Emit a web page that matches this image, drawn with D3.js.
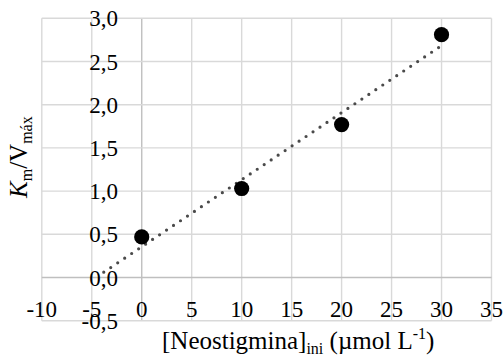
<!DOCTYPE html>
<html>
<head>
<meta charset="utf-8">
<script src="https://cdn.jsdelivr.net/npm/d3@7/dist/d3.min.js"></script>
<style>
  html, body { margin: 0; padding: 0; background: #fff; }
  svg { display: block; }
</style>
</head>
<body>
<svg id="chart" width="504" height="356"></svg>
<script>
// Data
const xValues = [0, 10, 20, 30];
const yValues = [0.47, 1.03, 1.77, 2.81];
const xTicks = [-10, -5, 0, 5, 10, 15, 20, 25, 30, 35];
const yTicks = [-0.5, 0, 0.5, 1.0, 1.5, 2.0, 2.5, 3.0];
const trendRange = [-3.8, 30];

const FONT = "'Times New Roman', 'Liberation Serif', 'Noto Serif', 'DejaVu Serif', FreeSerif, 'Nimbus Roman', Times, serif";
const svg = d3.select("#chart").attr("font-family", FONT);
const x = d3.scaleLinear().domain([-10, 35]).range([41.8, 491.5]);
const y = d3.scaleLinear().domain([-0.5, 3.0]).range([320.7, 18.3]);

const fmt = v => d3.format(".1f")(v).replace(".", ",").replace("\u2212", "-");

// gridlines
svg.append("g").selectAll("line").data(xTicks).join("line")
  .attr("x1", d => x(d)).attr("x2", d => x(d))
  .attr("y1", y(3.0)).attr("y2", y(-0.5))
  .attr("stroke", d => d === 0 ? "#bfbfbf" : "#d9d9d9")
  .attr("stroke-width", 1.4);
svg.append("g").selectAll("line").data(yTicks).join("line")
  .attr("x1", x(-10)).attr("x2", x(35))
  .attr("y1", d => y(d)).attr("y2", d => y(d))
  .attr("stroke", d => d === 0 ? "#bfbfbf" : "#d9d9d9")
  .attr("stroke-width", 1.4);

// trendline (least squares from the data)
const mx = d3.mean(xValues), my = d3.mean(yValues);
const slope = d3.sum(xValues.map((v, i) => (v - mx) * (yValues[i] - my))) /
              d3.sum(xValues.map(v => (v - mx) * (v - mx)));
const intercept = my - slope * mx;
const line = d3.line().x(d => x(d)).y(d => y(intercept + slope * d));
svg.append("path").datum(trendRange)
  .attr("d", line)
  .attr("fill", "none")
  .attr("stroke", "#4a4a4a")
  .attr("stroke-width", 3.2)
  .attr("stroke-linecap", "round")
  .attr("stroke-dasharray", "0 8.4");

// tick labels
svg.append("g").selectAll("text").data(xTicks).join("text")
  .attr("font-family", FONT)
  .attr("x", d => x(d)).attr("y", 317)
  .attr("text-anchor", "middle")
  .attr("font-size", 23)
  .text(d => d);
svg.append("g").selectAll("text").data(yTicks).join("text")
  .attr("font-family", FONT)
  .attr("x", 118).attr("y", d => y(d) + 8)
  .attr("text-anchor", "end")
  .attr("font-size", 23)
  .text(d => fmt(d));

// points
svg.append("g").selectAll("circle").data(xValues).join("circle")
  .attr("cx", d => x(d)).attr("cy", (d, i) => y(yValues[i]))
  .attr("r", 7.6)
  .attr("fill", "#000");

// x title
const xt = svg.append("text").attr("font-family", FONT)
  .attr("x", 162).attr("y", 349).attr("font-size", 25);
xt.append("tspan").text("[Neostigmina]");
xt.append("tspan").attr("font-size", 16).attr("dy", 5).text("ini");
xt.append("tspan").attr("dy", -5).text(" (\u00b5mol L");
xt.append("tspan").attr("font-size", 16).attr("dy", -10).text("-1");
xt.append("tspan").attr("dy", 10).text(")");

// y title
const yt = svg.append("text").attr("font-family", FONT)
  .attr("transform", "translate(27,198) rotate(-90)")
  .attr("font-size", 25);
yt.append("tspan").attr("font-style", "italic").text("K");
yt.append("tspan").attr("font-size", 16).attr("dy", 5).text("m");
yt.append("tspan").attr("dy", -5).text("/V");
yt.append("tspan").attr("font-size", 16).attr("dy", 5).text("máx");
</script>
</body>
</html>
